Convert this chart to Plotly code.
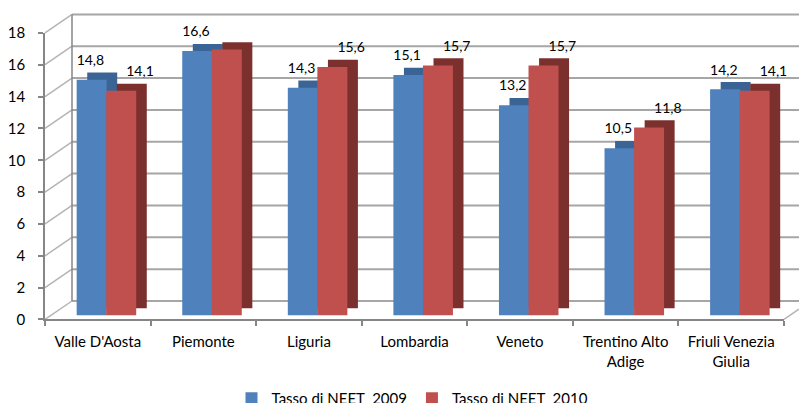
import plotly.graph_objects as go


REGIONS = [
    "Valle D'Aosta",
    "Piemonte",
    "Liguria",
    "Lombardia",
    "Veneto",
    "Trentino Alto<br>Adige",
    "Friuli Venezia<br>Giulia",
]
NEET_2009 = [14.8, 16.6, 14.3, 15.1, 13.2, 10.5, 14.2]
NEET_2010 = [14.1, 16.7, 15.6, 15.7, 15.7, 11.8, 14.1]
SERIES_NAMES = ["Tasso di NEET  2009", "Tasso di NEET  2010"]
Y_TICKS = list(range(0, 20, 2))

# target picture size; the page is captured a bit taller than the window,
# so the figure is made that tall and positions stay in picture pixels
W, H = 799, 403
FIG_H = 415

BLUE = "#4f81bd"
BLUE_DARK = "#3a6495"
RED = "#c0504d"
RED_DARK = "#7b302e"
GRID = "#a6a6a6"
SLANT = "#b4b4b4"
AXIS = "#868686"
TEXT = "#000000"
FONT = "Lato"

# pixel frame of the fake 3D box
FRONT_L, FRONT_R = 45, 784
FRONT_BOTTOM, FRONT_TOP = 311, 32
BARS_BOTTOM = 307
BACK_L = 72
BACK_BOTTOM, BACK_TOP = 293, 14
PX_PER_UNIT = (FRONT_BOTTOM - FRONT_TOP) / 18
LEGEND_Y = 388

# bar faces, in category units
BAR_W = 0.284
OFFSETS = [-0.2, 0.08]
DEPTH_X = 0.1
DEPTH_Y = 0.45
LABEL_DX = [-0.07, 0.40]
LABEL_DY = 1.4


def px_x(p):
    return p / W


def px_y(p):
    return 1 - p / H


def fmt(v):
    return f"{v:.1f}".replace(".", ",")


def line(x0, y0, x1, y1, color, width):
    # decoration drawn in pixel space (paper coords)
    return dict(
        type="line", xref="paper", yref="paper",
        x0=px_x(x0), y0=px_y(y0), x1=px_x(x1), y1=px_y(y1),
        line=dict(color=color, width=width),
        layer="below",
    )


idx = list(range(len(REGIONS)))
series = [NEET_2009, NEET_2010]
faces = [BLUE, RED]
sides = [BLUE_DARK, RED_DARK]

fig = go.Figure()

# value labels (on the front frame axes)
for vals, dx in zip(series, LABEL_DX):
    fig.add_trace(go.Scatter(
        x=[i + dx for i in idx],
        y=[v + LABEL_DY for v in vals],
        text=[fmt(v) for v in vals],
        mode="text",
        textfont=dict(family=FONT, size=14, color=TEXT),
        cliponaxis=False,
        xaxis="x", yaxis="y",
        showlegend=False, hoverinfo="skip",
    ))

# depth faces (behind)
for vals, off, col in zip(series, OFFSETS, sides):
    fig.add_trace(go.Bar(
        x=idx, y=vals, base=DEPTH_Y,
        offset=off + DEPTH_X, width=BAR_W,
        marker=dict(color=col, line_width=0),
        xaxis="x2", yaxis="y2",
        showlegend=False, hoverinfo="skip",
    ))

# front faces
for vals, off, col, name in zip(series, OFFSETS, faces, SERIES_NAMES):
    fig.add_trace(go.Bar(
        x=idx, y=vals,
        offset=off, width=BAR_W,
        marker=dict(color=col, line_width=0),
        name=name,
        xaxis="x2", yaxis="y2",
    ))

# back wall grid, side wall slants, floor edges
shapes = []
for v in Y_TICKS:
    back_y = BACK_BOTTOM - v * PX_PER_UNIT
    front_y = FRONT_BOTTOM - v * PX_PER_UNIT
    shapes.append(line(BACK_L, back_y, W, back_y, GRID, 2))
    shapes.append(line(FRONT_L, front_y, BACK_L, back_y, SLANT, 1.5))
shapes.append(line(BACK_L, BACK_BOTTOM, BACK_L, BACK_TOP, AXIS, 1.5))
shapes.append(line(
    FRONT_R, FRONT_BOTTOM, W,
    FRONT_BOTTOM - (FRONT_BOTTOM - BACK_BOTTOM) * (W - FRONT_R) / (BACK_L - FRONT_L),
    SLANT, 1.5,
))

fig.update_layout(
    template="none",
    width=W, height=FIG_H, autosize=False,
    margin=dict(l=0, r=0, t=0, b=0, pad=0),
    paper_bgcolor="white", plot_bgcolor="rgba(0,0,0,0)",
    font=dict(family=FONT, size=15, color=TEXT),
    barmode="overlay",
    shapes=shapes,
    # front frame with labels
    xaxis=dict(
        domain=[px_x(FRONT_L), px_x(FRONT_R)], anchor="y",
        range=[-0.5, len(REGIONS) - 0.5],
        tickvals=idx, ticktext=REGIONS, ticks="",
        minor=dict(
            tickmode="array",
            tickvals=[i - 0.5 for i in range(len(REGIONS) + 1)],
            ticks="outside", ticklen=5, tickcolor=AXIS, tickwidth=1.5,
            showgrid=False,
        ),
        showline=True, linecolor=AXIS, linewidth=1.5,
        showgrid=False, zeroline=False, automargin=False,
        ticklabelstandoff=8,
        tickfont=dict(size=15),
    ),
    yaxis=dict(
        domain=[px_y(FRONT_BOTTOM), px_y(FRONT_TOP)], anchor="x",
        range=[0, 18], tickvals=Y_TICKS,
        ticks="outside", ticklen=5, tickcolor=AXIS, tickwidth=1.5,
        showline=True, linecolor=AXIS, linewidth=1.5,
        showgrid=False, zeroline=False, automargin=False,
        ticklabelstandoff=10,
        tickfont=dict(size=15),
    ),
    # bars
    xaxis2=dict(
        domain=[px_x(FRONT_L), px_x(FRONT_R)], anchor="y2",
        range=[-0.5, len(REGIONS) - 0.5], visible=False,
        automargin=False,
    ),
    yaxis2=dict(
        domain=[px_y(BARS_BOTTOM), px_y(BARS_BOTTOM - 18 * PX_PER_UNIT)],
        anchor="x2", range=[0, 18], visible=False,
        automargin=False,
    ),
    legend=dict(
        orientation="h",
        x=px_x(W / 2 + 13), xanchor="center",
        y=px_y(LEGEND_Y), yanchor="middle",
        font=dict(size=15),
        bgcolor="rgba(0,0,0,0)",
        itemwidth=30,
    ),
)

fig.write_html(
    "out.html",
    config={"displayModeBar": False},
    post_script="document.body.style.margin = '0';",
)
